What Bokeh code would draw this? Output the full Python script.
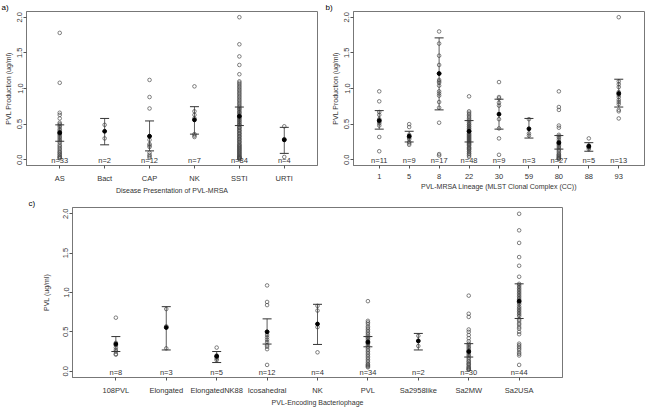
from bokeh.plotting import figure
from bokeh.layouts import column, row
from bokeh.models import FixedTicker, PrintfTickFormatter, Range1d
from bokeh.core.properties import value
from bokeh.embed import file_html
from bokeh.resources import INLINE

FONT = "Liberation Sans"

# ---------------- panel a ----------------
a_cats = ["AS", "Bact", "CAP", "NK", "SSTI", "URTI"]
a_n = [33, 2, 12, 7, 84, 4]
a_as = [1.78, 1.08, 0.66, 0.63, 0.58, 0.52, 0.50, 0.48, 0.46, 0.43, 0.41, 0.39, 0.37, 0.36, 0.34, 0.32,
        0.30, 0.28, 0.26, 0.24, 0.21, 0.19, 0.17, 0.15, 0.13, 0.11, 0.10, 0.08, 0.07, 0.05, 0.04, 0.03, 0.02]
a_bact = [0.49, 0.30]
a_cap = [1.12, 0.88, 0.72, 0.33, 0.28, 0.22, 0.20, 0.18, 0.10, 0.07, 0.05, 0.03]
a_nk = [1.03, 0.68, 0.63, 0.58, 0.36, 0.34, 0.32]
a_ssti = [2.00, 1.62, 1.45, 1.33, 1.20, 1.10, 1.08, 1.06, 1.04, 1.02, 1.00, 0.98, 0.96, 0.94, 0.92, 0.90,
          0.88, 0.86, 0.84, 0.82, 0.80, 0.78, 0.76, 0.74, 0.72, 0.71, 0.69, 0.67, 0.66, 0.64, 0.62, 0.61,
          0.59, 0.58, 0.56, 0.55, 0.53, 0.52, 0.50, 0.49, 0.48, 0.46, 0.45, 0.44, 0.42, 0.41, 0.40, 0.38,
          0.37, 0.36, 0.34, 0.33, 0.32, 0.30, 0.29, 0.28, 0.26, 0.25, 0.24, 0.22, 0.21, 0.20, 0.19, 0.18,
          0.17, 0.16, 0.15, 0.14, 0.13, 0.12, 0.11, 0.10, 0.09, 0.08, 0.07, 0.06, 0.05, 0.04, 0.04, 0.03,
          0.03, 0.02, 0.02, 0.01]
a_urti = [0.47, 0.29, 0.28, 0.04]
a_mean = [0.38, 0.40, 0.33, 0.56, 0.61, 0.28]
a_lo = [0.26, 0.21, 0.125, 0.36, 0.48, 0.09]
a_hi = [0.49, 0.58, 0.545, 0.745, 0.74, 0.455]

# ---------------- panel b ----------------
b_cats = ["1", "5", "8", "22", "30", "59", "80", "88", "93"]
b_n = [11, 9, 17, 48, 9, 3, 27, 5, 13]
b_cc1 = [0.96, 0.82, 0.67, 0.63, 0.57, 0.55, 0.53, 0.51, 0.48, 0.32, 0.12]
b_cc5 = [0.50, 0.46, 0.35, 0.33, 0.31, 0.29, 0.25, 0.23, 0.21]
b_cc8 = [1.80, 1.63, 1.46, 1.33, 1.21, 1.12, 1.10, 1.08, 1.04, 0.96, 0.93, 0.90, 0.81, 0.73, 0.52, 0.08, 0.06]
b_cc22 = [0.89, 0.68, 0.66, 0.64, 0.62, 0.60, 0.58, 0.56, 0.54, 0.52, 0.50, 0.49, 0.47, 0.46, 0.44, 0.43,
          0.41, 0.40, 0.39, 0.37, 0.36, 0.35, 0.34, 0.33, 0.32, 0.31, 0.30, 0.29, 0.28, 0.27, 0.26, 0.25,
          0.24, 0.23, 0.22, 0.21, 0.20, 0.18, 0.17, 0.16, 0.15, 0.14, 0.12, 0.11, 0.09, 0.08, 0.06, 0.04]
b_cc30 = [1.09, 0.88, 0.86, 0.80, 0.76, 0.57, 0.44, 0.30, 0.07]
b_cc59 = [0.57, 0.37, 0.34]
b_cc80 = [0.96, 0.74, 0.70, 0.48, 0.45, 0.35, 0.33, 0.31, 0.28, 0.25, 0.23, 0.22, 0.20, 0.18, 0.16, 0.14,
          0.12, 0.10, 0.08, 0.07, 0.06, 0.05, 0.04, 0.03, 0.02, 0.02, 0.01]
b_cc88 = [0.30, 0.20, 0.18, 0.17, 0.15]
b_cc93 = [2.00, 1.10, 1.06, 1.02, 0.95, 0.91, 0.88, 0.84, 0.81, 0.78, 0.70, 0.68, 0.58]
b_mean = [0.55, 0.33, 1.21, 0.40, 0.64, 0.435, 0.24, 0.19, 0.93]
b_lo = [0.43, 0.25, 0.70, 0.25, 0.43, 0.305, 0.15, 0.12, 0.74]
b_hi = [0.69, 0.40, 1.71, 0.55, 0.85, 0.58, 0.34, 0.24, 1.13]

# ---------------- panel c ----------------
c_cats = ["108PVL", "Elongated", "ElongatedNK88", "Icosahedral", "NK", "PVL", "Sa2958like", "Sa2MW", "Sa2USA"]
c_n = [8, 3, 5, 12, 4, 34, 2, 30, 44]
c_108 = [0.68, 0.36, 0.33, 0.30, 0.27, 0.25, 0.22, 0.21]
c_elong = [0.79, 0.57, 0.29]
c_elnk88 = [0.30, 0.20, 0.18, 0.16, 0.14]
c_icos = [1.09, 0.88, 0.84, 0.50, 0.46, 0.43, 0.40, 0.37, 0.33, 0.31, 0.28, 0.08]
c_nk = [0.83, 0.77, 0.56, 0.24]
c_pvl = [0.89, 0.64, 0.62, 0.60, 0.57, 0.55, 0.53, 0.51, 0.49, 0.47, 0.45, 0.43, 0.42, 0.40, 0.38, 0.36,
         0.35, 0.33, 0.31, 0.29, 0.27, 0.25, 0.23, 0.21, 0.19, 0.17, 0.15, 0.13, 0.11, 0.09, 0.08, 0.07,
         0.06, 0.05]
c_sa2958 = [0.45, 0.32]
c_sa2mw = [0.96, 0.73, 0.69, 0.53, 0.50, 0.46, 0.42, 0.38, 0.35, 0.33, 0.31, 0.29, 0.27, 0.25, 0.23, 0.21,
           0.19, 0.17, 0.15, 0.13, 0.12, 0.10, 0.09, 0.08, 0.06, 0.05, 0.04, 0.03, 0.02, 0.02]
c_sa2usa = [2.00, 1.79, 1.63, 1.45, 1.34, 1.20, 1.11, 1.09, 1.07, 1.05, 1.03, 1.01, 0.99, 0.97, 0.95, 0.93,
            0.91, 0.89, 0.87, 0.85, 0.82, 0.80, 0.78, 0.76, 0.74, 0.72, 0.70, 0.66, 0.64, 0.61, 0.59, 0.56,
            0.54, 0.50, 0.47, 0.35, 0.33, 0.31, 0.29, 0.27, 0.24, 0.22, 0.20, 0.08]
c_mean = [0.345, 0.555, 0.19, 0.50, 0.60, 0.37, 0.385, 0.25, 0.89]
c_lo = [0.25, 0.27, 0.11, 0.345, 0.34, 0.31, 0.27, 0.18, 0.67]
c_hi = [0.44, 0.82, 0.25, 0.665, 0.85, 0.44, 0.48, 0.35, 1.11]

y_ticks = [0.0, 0.5, 1.0, 1.5, 2.0]

INK = "#333333"
PT = "#4a4a4a"


def make_panel(cats, groups, means, los, his, ns, xlabel, ylabel, width, height,
               borders, ylab_standoff, tag, tag_offset):
    k = len(cats)
    pad = 0.04 * k
    p = figure(width=width, height=height, output_backend="svg", toolbar_location=None,
               x_range=Range1d(0.5 - pad, k + 0.5 + pad), y_range=Range1d(-0.08, 2.08),
               min_border_left=borders[0], min_border_right=borders[1],
               min_border_top=borders[2], min_border_bottom=borders[3])
    p.title.text = tag
    p.title.align = "left"
    p.title.offset = tag_offset
    p.title.standoff = 0
    p.title.text_font = FONT
    p.title.text_font_size = "8px"
    p.title.text_font_style = "normal"
    p.title.text_color = "black"
    p.background_fill_color = "white"
    p.border_fill_color = "white"
    p.outline_line_color = "#777777"
    p.outline_line_width = 1
    p.xgrid.visible = False
    p.ygrid.visible = False

    xs, ys = [], []
    for i, g in enumerate(groups):
        xs += [i + 1] * len(g)
        ys += g
    p.scatter(xs, ys, marker="circle", size=3.6, fill_color=None, line_color=PT, line_width=0.7)

    pos = list(range(1, k + 1))
    p.segment(pos, los, pos, his, line_color=INK, line_width=0.8)
    p.scatter(pos, los, marker="dash", size=9, line_color=INK, line_width=1)
    p.scatter(pos, his, marker="dash", size=9, line_color=INK, line_width=1)
    p.scatter(pos, means, marker="circle", size=3.8, fill_color="black", line_color="black")

    p.text(pos, [-0.015] * k, text=[f"n={n}" for n in ns], text_align="center",
           text_baseline="middle", text_font=value(FONT), text_font_size="7.5px", text_color=INK)

    ax = p.xaxis[0]
    ax.ticker = FixedTicker(ticks=pos)
    ax.major_label_overrides = {i + 1: c for i, c in enumerate(cats)}
    ay = p.yaxis[0]
    ay.ticker = FixedTicker(ticks=y_ticks)
    ay.formatter = PrintfTickFormatter(format="%.1f")
    ay.major_label_orientation = "parallel"
    for a in (ax, ay):
        a.minor_tick_line_color = None
        a.axis_line_color = "#777777"
        a.major_tick_line_color = "#555555"
        a.major_tick_in = 0
        a.major_tick_out = 3
        a.major_label_text_font = FONT
        a.major_label_text_font_size = "7.5px"
        a.major_label_text_color = INK
        a.axis_label_text_font = FONT
        a.axis_label_text_font_size = "7px"
        a.axis_label_text_font_style = "normal"
        a.axis_label_text_color = INK
    ax.major_label_standoff = 5
    ax.axis_label_standoff = 1
    ay.major_label_standoff = 1
    ay.axis_label_standoff = ylab_standoff
    ax.axis_label = xlabel
    ay.axis_label = ylabel
    return p


pa = make_panel(a_cats, [a_as, a_bact, a_cap, a_nk, a_ssti, a_urti], a_mean, a_lo, a_hi, a_n,
                "Disease Presentation of PVL-MRSA", "PVL Production (ug/ml)",
                323, 196, (26, 6, 9, 31), 3, "a)", -25)
pb = make_panel(b_cats, [b_cc1, b_cc5, b_cc8, b_cc22, b_cc30, b_cc59, b_cc80, b_cc88, b_cc93],
                b_mean, b_lo, b_hi, b_n,
                "PVL-MRSA Lineage (MLST Clonal Complex (CC))", "PVL Production (ug/ml)",
                325, 196, (30, 4, 9, 31), 3, "b)", -28)
pc = make_panel(c_cats, [c_108, c_elong, c_elnk88, c_icos, c_nk, c_pvl, c_sa2958, c_sa2mw, c_sa2usa],
                c_mean, c_lo, c_hi, c_n,
                "PVL-Encoding Bacteriophage", "PVL (ug/ml)",
                648, 212, (72, 86, 10, 26), 11, "c)", -44)

layout = column(row(pa, pb), pc)
open("out.html", "w").write(file_html(layout, INLINE))
